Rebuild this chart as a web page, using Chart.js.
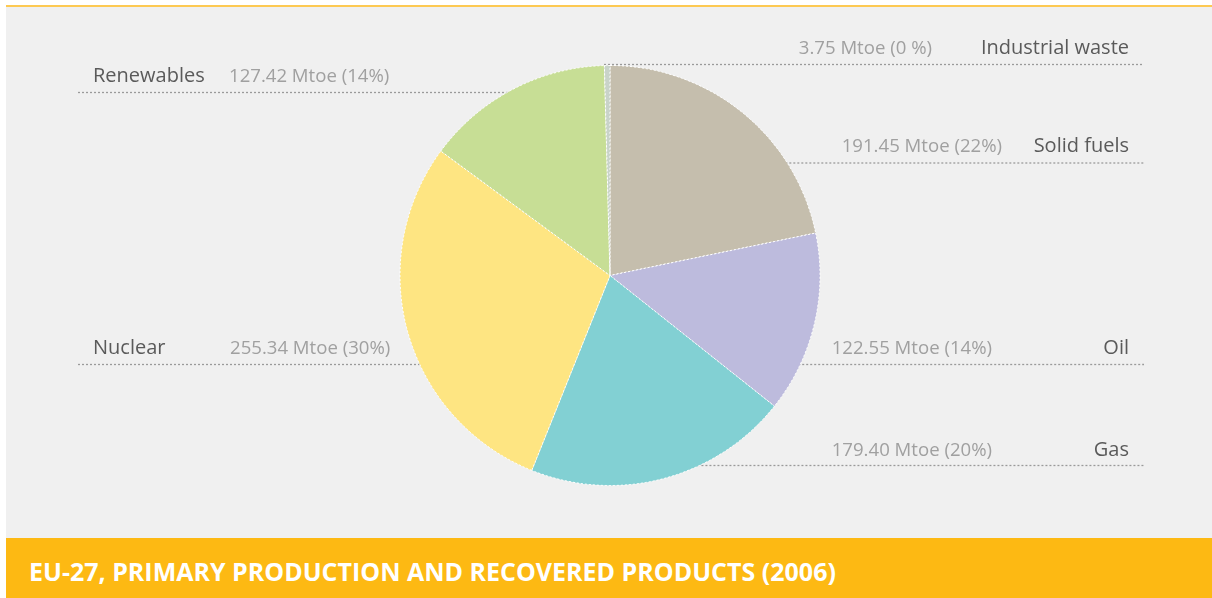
<!DOCTYPE html>
<html>
<head>
<meta charset="utf-8">
<script src="https://cdn.jsdelivr.net/npm/chart.js@4.4.0/dist/chart.umd.min.js"></script>
<style>
  html, body { margin: 0; padding: 0; background: #ffffff; }
  #wrap { position: relative; width: 1212px; height: 598px; overflow: hidden; font-family: "Open Sans", sans-serif; }
  #panel { position: absolute; left: 6px; top: 5px; right: 0; height: 533px; background: #f0f0f0; border-top: 2px solid #fdc952; box-sizing: border-box; }
  #band { position: absolute; left: 6px; top: 538px; right: 0; bottom: 0; background: #fdb913; }
  #title { position: absolute; left: 29px; color: #ffffff; font-weight: 700; font-size: 25px; line-height: 25px; white-space: nowrap; }
  canvas { position: absolute; left: 0; top: 0; }
  .lbl { position: absolute; white-space: nowrap; }
  .name { color: #5a5a5a; font-size: 20px; line-height: 20px; }
  .val { color: #a0a0a0; font-size: 18.6px; line-height: 18.6px; }
</style>
</head>
<body>
<div id="wrap">
  <div id="panel"></div>
  <div id="band"></div>
  <div id="title">EU-27, PRIMARY PRODUCTION AND RECOVERED PRODUCTS (2006)</div>
  <canvas id="pie" width="1212" height="598"></canvas>
</div>
<script>
// Primary production by source, Mtoe, clockwise from 12 o'clock
const categories = ["Solid fuels", "Oil", "Gas", "Nuclear", "Renewables", "Industrial waste"];
const mtoe = [191.45, 122.55, 179.40, 255.34, 127.42, 3.75];
const shareLabels = ["22%", "14%", "20%", "30%", "14%", "0 %"];
const sliceColors = ["#c5bead", "#bdbbdd", "#82d0d3", "#fee582", "#c7de95", "#c9d3c9"];

// Where each caption sits: side, leader-line y, text baseline, anchor x's
const labelLayout = [
  { side: "right", lineY: 163,   base: 153, nameRight: 1129, valRight: 1002 },
  { side: "right", lineY: 364.5, base: 355, nameRight: 1129, valRight: 992 },
  { side: "right", lineY: 465.5, base: 457, nameRight: 1129, valRight: 992 },
  { side: "left",  lineY: 364.5, base: 355, nameLeft: 93, valLeft: 230 },
  { side: "left",  lineY: 92.5,  base: 83,  nameLeft: 93, valLeft: 229 },
  { side: "right", lineY: 64.5,  base: 55,  nameRight: 1129, valRight: 932, lineStart: 604 }
];
const lineLeft = 78, lineRight = 1144;
const NAME_PX = 20, VAL_PX = 18.6, TITLE_PX = 25;

const wrap = document.getElementById("wrap");
function place(text, cls, size, base, x, alignRight) {
  const el = document.createElement("div");
  el.className = "lbl " + cls;
  el.textContent = text;
  el.style.top = (base - 0.888 * size) + "px";
  wrap.appendChild(el);
  if (alignRight) el.style.left = (x - el.getBoundingClientRect().width) + "px";
  else el.style.left = x + "px";
}
document.getElementById("title").style.top = (581 - 0.888 * TITLE_PX) + "px";

categories.forEach((name, i) => {
  const L = labelLayout[i];
  const valText = mtoe[i].toFixed(2) + " Mtoe (" + shareLabels[i] + ")";
  if (L.side === "right") {
    place(name, "name", NAME_PX, L.base, L.nameRight, true);
    place(valText, "val", VAL_PX, L.base, L.valRight, true);
  } else {
    place(name, "name", NAME_PX, L.base, L.nameLeft, false);
    place(valText, "val", VAL_PX, L.base, L.valLeft, false);
  }
});

// Dotted leader lines running from the pie rim out to each caption
const leaderLines = {
  id: "leaderLines",
  beforeDatasetsDraw(chart) {
    const arc = chart.getDatasetMeta(0).data[0];
    const cx = arc.x, cy = arc.y, r = arc.outerRadius;
    const ctx = chart.ctx;
    ctx.save();
    ctx.strokeStyle = "#9a9a9a";
    ctx.lineWidth = 1.3;
    ctx.setLineDash([2, 2]);
    labelLayout.forEach(L => {
      const dy = L.lineY - cy;
      const half = Math.abs(dy) < r ? Math.sqrt(r * r - dy * dy) : 0;
      let x0, x1;
      if (L.side === "right") { x0 = L.lineStart !== undefined ? L.lineStart : cx + half - 2; x1 = lineRight; }
      else { x0 = lineLeft; x1 = cx - half + 2; }
      ctx.beginPath();
      ctx.moveTo(x0, L.lineY);
      ctx.lineTo(x1, L.lineY);
      ctx.stroke();
    });
    ctx.restore();
  }
};

new Chart(document.getElementById("pie"), {
  type: "pie",
  data: {
    labels: categories,
    datasets: [{
      data: mtoe,
      backgroundColor: sliceColors,
      borderColor: "#ffffff",
      borderWidth: 1,
      borderDash: [2, 2],
      hoverOffset: 0
    }]
  },
  options: {
    responsive: false,
    animation: false,
    radius: 210,
    layout: { padding: { left: 400, right: 392, top: 65, bottom: 112 } },
    plugins: { legend: { display: false }, tooltip: { enabled: false } }
  },
  plugins: [leaderLines]
});
</script>
</body>
</html>
